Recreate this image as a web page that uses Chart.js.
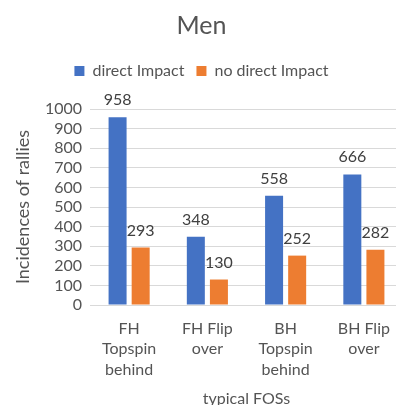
<!DOCTYPE html>
<html>
<head>
<meta charset="utf-8">
<script src="https://cdn.jsdelivr.net/npm/chart.js@4.4.0/dist/chart.umd.min.js"></script>
<style>
  html, body { margin: 0; padding: 0; background: #fff; overflow: hidden; }
  #wrap { width: 404px; height: 405px; }
</style>
</head>
<body>
<div id="wrap"><canvas id="c" width="404" height="405"></canvas></div>
<script>
// Categories and series values
const categories = [
  ["FH", "Topspin", "behind"],
  ["FH Flip", "over"],
  ["BH", "Topspin", "behind"],
  ["BH Flip", "over"]
];
const directImpact = [958, 348, 558, 666];
const noDirectImpact = [293, 130, 252, 282];
const yTicks = [0, 100, 200, 300, 400, 500, 600, 700, 800, 900, 1000];

const FONT = "Lato, 'Open Sans', sans-serif";
const TEXT = "#545454";

// Writes each bar's value just above it
const valueLabels = {
  id: "valueLabels",
  afterDatasetsDraw(chart) {
    const ctx = chart.ctx;
    ctx.save();
    ctx.font = "16px " + FONT;
    ctx.fillStyle = "#404040";
    ctx.textAlign = "center";
    ctx.textBaseline = "alphabetic";
    chart.data.datasets.forEach((ds, i) => {
      const meta = chart.getDatasetMeta(i);
      meta.data.forEach((bar, j) => {
        ctx.fillText(String(ds.data[j]), bar.x, bar.y - 12);
      });
    });
    ctx.restore();
  }
};

// Leaves extra room between the legend row and the plot
const legendGap = {
  id: "legendGap",
  beforeInit(chart) {
    const legend = chart.legend;
    if (!legend) return;
    const fit = legend.fit;
    legend.fit = function () {
      fit.call(this);
      this.height += 20;
    };
  }
};

new Chart(document.getElementById("c"), {
  type: "bar",
  data: {
    labels: categories,
    datasets: [
      { label: "direct Impact", data: directImpact, backgroundColor: "#4472C4" },
      { label: "no direct Impact", data: noDirectImpact, backgroundColor: "#ED7D31" }
    ]
  },
  plugins: [legendGap, valueLabels],
  options: {
    responsive: false,
    animation: false,
    layout: { padding: { left: 0, right: 1, top: 0, bottom: 0 } },
    categoryPercentage: 0.59,
    barPercentage: 0.78,
    plugins: {
      title: {
        display: true,
        text: "Men",
        color: TEXT,
        font: { family: FONT, size: 25, weight: "normal" },
        padding: { top: 11, bottom: 10 }
      },
      legend: {
        display: true,
        position: "top",
        labels: {
          color: TEXT,
          font: { family: FONT, size: 16 },
          boxWidth: 10,
          boxHeight: 10,
          padding: 12
        }
      },
      tooltip: { enabled: false }
    },
    scales: {
      x: {
        afterFit(scale) { scale.height = 100; },
        grid: { display: false },
        border: { display: true, color: "#d9d9d9" },
        ticks: {
          color: TEXT,
          font: { family: FONT, size: 16, lineHeight: 1.3 },
          padding: 5,
          maxRotation: 0,
          autoSkip: false
        },
        title: {
          display: true,
          text: "typical FOSs",
          color: TEXT,
          font: { family: FONT, size: 16, lineHeight: 0.8 },
          padding: { top: 0, bottom: 0 }
        }
      },
      y: {
        min: 0,
        max: 1000,
        afterFit(scale) { scale.width = 90; },
        afterBuildTicks(scale) { scale.ticks = yTicks.map(v => ({ value: v })); },
        grid: { color: "#d9d9d9", drawTicks: false },
        border: { display: false },
        ticks: {
          color: TEXT,
          font: { family: FONT, size: 16 },
          padding: 8,
          autoSkip: false,
          callback: (v) => String(v)
        },
        title: {
          display: true,
          text: "Incidences of rallies",
          color: TEXT,
          font: { family: FONT, size: 18 },
          padding: { top: 12, bottom: 0 }
        }
      }
    }
  }
});
</script>
</body>
</html>
